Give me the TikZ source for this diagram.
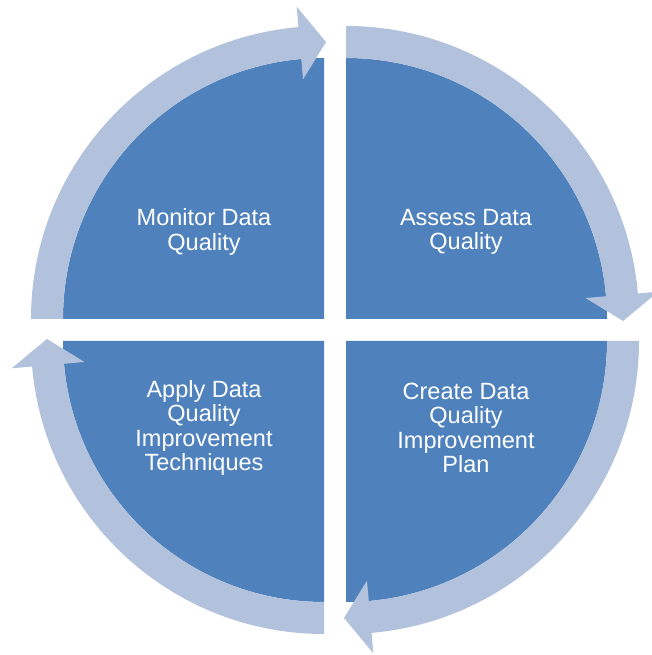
\documentclass[tikz,border=0pt]{standalone}
\usepackage{fontspec}
\setmainfont{Liberation Sans}
\definecolor{sectorblue}{HTML}{4F81BD}
\definecolor{ringblue}{HTML}{B3C2DC}
\tikzset{
  sectorfill/.style={fill=sectorblue},
  ringfill/.style={fill=ringblue},
  label/.style={text=white, align=center, font=\fontsize{23.5}{24.5}\selectfont, inner sep=0pt},
}
\newcommand{\quadsector}{%
  \fill[sectorfill] (0,0) -- (180:261) arc[start angle=180,end angle=90,radius=261] -- cycle;}
\newcommand{\quadarrow}{%
  \fill[ringfill] (180:261) arc[start angle=180,end angle=95,radius=261]
    -- (95:240.5) -- (2,277) -- (95:313.5) -- (95:293)
    arc[start angle=95,end angle=180,radius=293] -- cycle;}
\begin{document}
\begin{tikzpicture}[x=1pt,y=1pt]
\useasboundingbox (0,0) rectangle (652,655);
% sectors
\begin{scope}[shift={(324,336)}]\quadsector\end{scope}
\begin{scope}[shift={(346,336)},rotate=-90]\quadsector\end{scope}
\begin{scope}[shift={(346,314)},rotate=-180]\quadsector\end{scope}
\begin{scope}[shift={(324,314)},rotate=-270]\quadsector\end{scope}
% ring arrows
\begin{scope}[shift={(324,336)}]\quadarrow\end{scope}
\begin{scope}[shift={(346,336)},rotate=-90]\quadarrow\end{scope}
\begin{scope}[shift={(346,314)},rotate=-180]\quadarrow\end{scope}
\begin{scope}[shift={(324,314)},rotate=-270]\quadarrow\end{scope}
% labels
\node[label] (monitor) at (204,423) {Monitor Data\\Quality};
\node[label] (assess) at (466,423) {Assess Data\\Quality};
\node[label] (create) at (466,227) {Create Data\\Quality\\Improvement\\Plan};
\node[label] (apply) at (204,227) {Apply Data\\Quality\\Improvement\\Techniques};
\end{tikzpicture}
\end{document}
